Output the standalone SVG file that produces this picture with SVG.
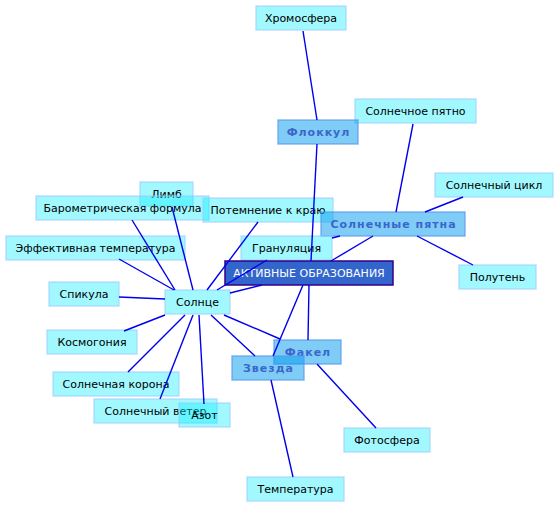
<svg xmlns="http://www.w3.org/2000/svg" width="560" height="508" viewBox="0 0 560 508">
<style>
.n rect{fill:#00eeff;fill-opacity:0.37;stroke:#99ccff;stroke-opacity:0.6;stroke-width:1.5}
.n text{font-family:"DejaVu Sans",sans-serif;font-size:11px;fill:#000;text-anchor:middle}
.b rect{fill:#0099ee;fill-opacity:0.5;stroke:#5599ee;stroke-opacity:0.7;stroke-width:1.5}
.b text{font-family:"DejaVu Sans",sans-serif;font-size:11px;font-weight:bold;letter-spacing:1px;fill:#3a66cc;text-anchor:middle}
.c rect{fill:#3366cc;stroke:#330088;stroke-width:1.5}
.c text{font-family:"DejaVu Sans",sans-serif;font-size:11px;fill:#fff;text-anchor:middle}
#edges line{stroke:#0000ee;stroke-width:1.4}
</style>
<rect width="560" height="508" fill="#fff"/>
<g id="nodes">
<g id="n-chromo" class="n"><rect x="256" y="6" width="90" height="24"/><text x="301" y="22">Хромосфера</text></g>
<g id="n-spot" class="n"><rect x="355" y="99" width="121" height="24"/><text x="415.5" y="115">Солнечное пятно</text></g>
<g id="n-flocc" class="b"><rect x="278" y="120" width="80" height="24"/><text x="318.5" y="136">Флоккул</text></g>
<g id="n-cycle" class="n"><rect x="435" y="173" width="118" height="24"/><text x="494" y="189">Солнечный цикл</text></g>
<g id="n-limb" class="n"><rect x="140" y="182" width="53" height="24"/><text x="166.5" y="198">Лимб</text></g>
<g id="n-baro" class="n"><rect x="36" y="196" width="173" height="24"/><text x="122.5" y="212">Барометрическая формула</text></g>
<g id="n-darken" class="n"><rect x="203" y="198" width="130" height="24"/><text x="268" y="214">Потемнение к краю</text></g>
<g id="n-spots" class="b"><rect x="321" y="212" width="144" height="24"/><text x="393.5" y="228">Солнечные пятна</text></g>
<g id="n-gran" class="n"><rect x="241" y="236" width="91" height="24"/><text x="286.5" y="252">Грануляция</text></g>
<g id="n-efftemp" class="n"><rect x="6" y="236" width="179" height="24"/><text x="95.5" y="252">Эффективная температура</text></g>
<g id="n-active" class="c"><rect x="225" y="261" width="168" height="24"/><text x="309" y="277">АКТИВНЫЕ ОБРАЗОВАНИЯ</text></g>
<g id="n-penumbra" class="n"><rect x="459" y="265" width="77" height="24"/><text x="497.5" y="281">Полутень</text></g>
<g id="n-spicule" class="n"><rect x="49" y="282" width="70" height="24"/><text x="84" y="298">Спикула</text></g>
<g id="n-sun" class="n"><rect x="165" y="290" width="65" height="24"/><text x="197.5" y="306">Солнце</text></g>
<g id="n-cosmo" class="n"><rect x="47" y="330" width="90" height="24"/><text x="92" y="346">Космогония</text></g>
<g id="n-facula" class="b"><rect x="274" y="340" width="67" height="24"/><text x="308" y="356">Факел</text></g>
<g id="n-star" class="b"><rect x="232" y="356" width="72" height="24"/><text x="268.5" y="372">Звезда</text></g>
<g id="n-corona" class="n"><rect x="53" y="372" width="126" height="24"/><text x="116" y="388">Солнечная корона</text></g>
<g id="n-wind" class="n"><rect x="94" y="399" width="123" height="24"/><text x="155.5" y="415">Солнечный ветер</text></g>
<g id="n-nitro" class="n"><rect x="179" y="403" width="51" height="24"/><text x="204.5" y="419">Азот</text></g>
<g id="n-photo" class="n"><rect x="344" y="428" width="86" height="24"/><text x="387" y="444">Фотосфера</text></g>
<g id="n-temp" class="n"><rect x="247" y="477" width="97" height="24"/><text x="295.5" y="493">Температура</text></g>
</g>
<g id="edges">
<line x1="303" y1="31" x2="317" y2="120"/>
<line x1="317" y1="144" x2="311" y2="261"/>
<line x1="413" y1="124" x2="396" y2="212"/>
<line x1="463" y1="197" x2="425" y2="212"/>
<line x1="373" y1="236" x2="331" y2="261"/>
<line x1="417" y1="236" x2="473" y2="265"/>
<line x1="332" y1="238" x2="340" y2="236"/>
<line x1="132" y1="220" x2="175" y2="290"/>
<line x1="172" y1="207" x2="193" y2="290"/>
<line x1="258" y1="222" x2="207" y2="290"/>
<line x1="119" y1="259" x2="174" y2="290"/>
<line x1="119" y1="297" x2="165" y2="299"/>
<line x1="267" y1="260" x2="217" y2="290"/>
<line x1="262" y1="285" x2="230" y2="293"/>
<line x1="124" y1="331" x2="165" y2="315"/>
<line x1="128" y1="372" x2="185" y2="315"/>
<line x1="160" y1="399" x2="193" y2="315"/>
<line x1="204" y1="404" x2="199" y2="315"/>
<line x1="255" y1="356" x2="211" y2="315"/>
<line x1="280" y1="339" x2="224" y2="315"/>
<line x1="303" y1="285" x2="273" y2="356"/>
<line x1="309" y1="285" x2="308" y2="340"/>
<line x1="317" y1="364" x2="376" y2="428"/>
<line x1="271" y1="380" x2="293" y2="477"/>
</g>
</svg>
